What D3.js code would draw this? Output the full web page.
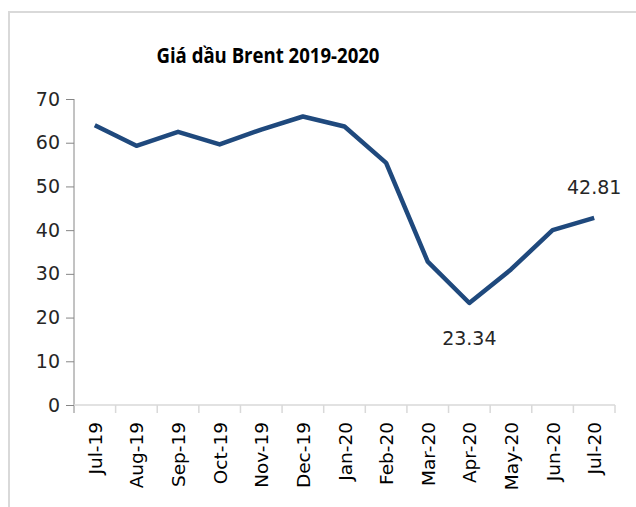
<!DOCTYPE html>
<html>
<head>
<meta charset="utf-8">
<script src="https://cdn.jsdelivr.net/npm/d3@7"></script>
<style>
  body { margin: 0; background: #fff; }
</style>
</head>
<body>
<div id="chart"></div>
<script>
const width = 636;
const height = 507;

const months = ["Jul-19", "Aug-19", "Sep-19", "Oct-19", "Nov-19", "Dec-19", "Jan-20",
  "Feb-20", "Mar-20", "Apr-20", "May-20", "Jun-20", "Jul-20"];
const prices = [64.0, 59.3, 62.5, 59.6, 63.0, 66.0, 63.7, 55.4, 32.8, 23.34, 31.0, 40.0, 42.81];
const labelled = ["Apr-20", "Jul-20"];
const yTicks = [0, 10, 20, 30, 40, 50, 60, 70];

const margin = { left: 74, right: 21, top: 99, bottom: 102 };

const svg = d3.select("#chart")
  .append("svg")
  .attr("width", width)
  .attr("height", height);

// outer frame, runs off the right and bottom of the picture
svg.append("rect")
  .attr("x", 9)
  .attr("y", 12)
  .attr("width", 700)
  .attr("height", 600)
  .attr("fill", "none")
  .attr("stroke", "#d9d9d9")
  .attr("stroke-width", 2);

const x = d3.scaleBand()
  .domain(months)
  .range([margin.left, width - margin.right]);

const y = d3.scaleLinear()
  .domain([0, 70])
  .range([height - margin.bottom, margin.top]);

svg.append("text")
  .attr("x", 268)
  .attr("y", 63)
  .attr("text-anchor", "middle")
  .attr("font-family", "Open Sans, DejaVu Sans, sans-serif")
  .attr("font-weight", "bold")
  .attr("font-size", 22)
  .attr("fill", "#000")
  .attr("textLength", 223)
  .attr("lengthAdjust", "spacingAndGlyphs")
  .text("Giá dầu Brent 2019-2020");

// y axis
const yAxis = svg.append("g")
  .attr("transform", `translate(${margin.left},0)`)
  .call(d3.axisLeft(y).tickValues(yTicks).tickSize(8).tickPadding(6));
yAxis.select(".domain").attr("stroke", "#868686").attr("d", `M0,${y(70)}V${y(0) + 8}`);
yAxis.selectAll(".tick line").attr("stroke", "#868686");
yAxis.selectAll(".tick text")
  .attr("font-family", "DejaVu Sans, sans-serif")
  .attr("font-size", 19)
  .attr("fill", "#262626");

// x axis, ticks sit at the band edges
const xAxis = svg.append("g")
  .attr("transform", `translate(0,${y(0)})`);
xAxis.append("line")
  .attr("x1", margin.left)
  .attr("x2", width - margin.right)
  .attr("stroke", "#d9d9d9")
  .attr("stroke-width", 1.5);
xAxis.selectAll("line.edge")
  .data(months)
  .enter()
  .append("line")
  .attr("class", "edge")
  .attr("x1", d => x(d) + x.bandwidth())
  .attr("x2", d => x(d) + x.bandwidth())
  .attr("y1", 0)
  .attr("y2", 8)
  .attr("stroke", "#d9d9d9")
  .attr("stroke-width", 1.5);
xAxis.selectAll("text")
  .data(months)
  .enter()
  .append("text")
  .attr("transform", d => `translate(${x(d) + x.bandwidth() / 2 + 7},17) rotate(-90)`)
  .attr("text-anchor", "end")
  .attr("font-family", "DejaVu Sans, sans-serif")
  .attr("font-size", 18.5)
  .attr("fill", "#000")
  .text(d => d);

const line = d3.line()
  .x((d, i) => x(months[i]) + x.bandwidth() / 2)
  .y(d => y(d));

svg.append("path")
  .datum(prices)
  .attr("d", line)
  .attr("fill", "none")
  .attr("stroke", "#1f497d")
  .attr("stroke-width", 4.5)
  .attr("stroke-linejoin", "round");

// data labels
const labelData = months.map((m, i) => ({ m, v: prices[i] })).filter(d => labelled.includes(d.m));
svg.selectAll("text.value")
  .data(labelData)
  .enter()
  .append("text")
  .attr("class", "value")
  .attr("x", d => x(d.m) + x.bandwidth() / 2)
  .attr("y", d => d.m === "Apr-20" ? y(d.v) + 42 : y(d.v) - 24)
  .attr("text-anchor", "middle")
  .attr("font-family", "DejaVu Sans, sans-serif")
  .attr("font-size", 19)
  .attr("fill", "#262626")
  .text(d => d.v.toFixed(2));
</script>
</body>
</html>
